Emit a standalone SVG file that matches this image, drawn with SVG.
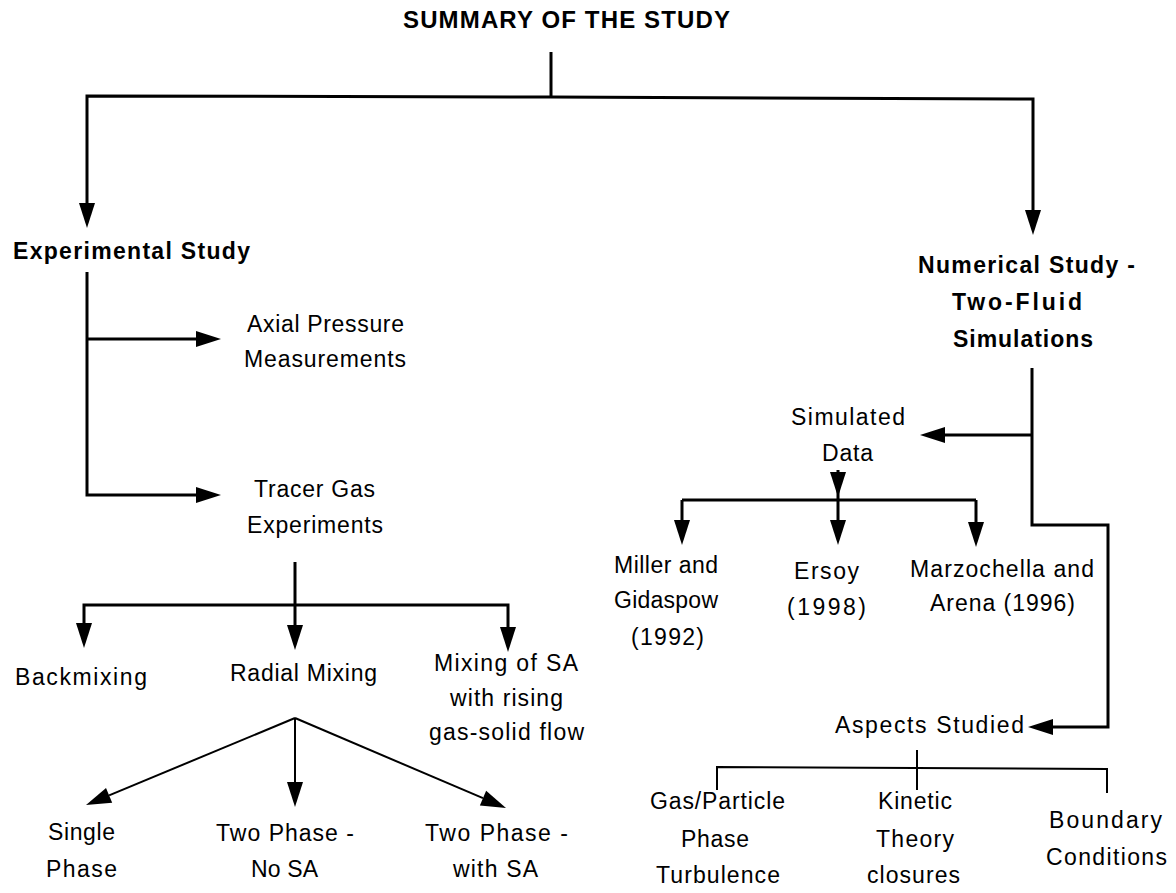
<svg xmlns="http://www.w3.org/2000/svg" width="1176" height="893" viewBox="0 0 1176 893">
<style>
text{font-family:"Liberation Sans",Arial,sans-serif;font-size:23px;fill:#000;text-anchor:middle}
.b{font-weight:bold}
.h{font-size:24px}
.c{fill:none;stroke:#000;stroke-width:3;stroke-linejoin:miter}
.t{fill:none;stroke:#000;stroke-width:2}
.a{marker-end:url(#ah)}
</style>
<defs>
<marker id="ah" viewBox="0 0 25 16" refX="0" refY="8" markerWidth="25" markerHeight="16" markerUnits="userSpaceOnUse" orient="auto" overflow="visible">
<path d="M0,0 L25,8 L0,16 Z" fill="#000"/>
</marker>
</defs>
<rect width="1176" height="893" fill="#fff"/>
<g id="connectors">
<path class="c" d="M551,52 L551,97"/>
<path class="c a" d="M551,97 L87,96 L87,203"/>
<path class="c a" d="M551,97 L1033,99 L1033,210"/>
<path class="c a" d="M87,272 L87,495 L196,495"/>
<path class="c a" d="M87,339 L196,339"/>
<path class="c a" d="M295,562 L295,625"/>
<path class="c a" d="M295,605 L84,605 L84,623"/>
<path class="c a" d="M295,605 L508,605 L508,627"/>
<path class="t a" d="M295,718 L109.1,795.4"/>
<path class="t a" d="M295,718 L295,782"/>
<path class="t a" d="M295,718 L483,798.2"/>
<path class="c a" d="M1032,368 L1032,525 L1108,525 L1108,727 L1053,727"/>
<path class="c a" d="M1032,435 L945,435"/>
<path class="c a" d="M838,470 L838,472"/>
<path class="c" d="M682,500 L976,500"/>
<path class="c a" d="M682,500 L682,520"/>
<path class="c a" d="M838,472 L838,520"/>
<path class="c a" d="M976,500 L976,522"/>
<path class="t" d="M917,750 L917,790"/>
<path class="t" d="M717,790 L717,767 L1107,769 L1107,793"/>
</g>
<g id="title"><text class="b h" x="566.5" y="28" textLength="327" lengthAdjust="spacing">SUMMARY OF THE STUDY</text></g>
<g id="experimental"><text class="b" x="131.5" y="259" textLength="237" lengthAdjust="spacing">Experimental Study</text></g>
<g id="numerical">
<text class="b" x="1026.5" y="273" textLength="217" lengthAdjust="spacing">Numerical Study -</text>
<text class="b" x="1017" y="310" textLength="130" lengthAdjust="spacing">Two-Fluid</text>
<text class="b" x="1023" y="347" textLength="140" lengthAdjust="spacing">Simulations</text>
</g>
<g id="axial">
<text x="325.5" y="332" textLength="157" lengthAdjust="spacing">Axial Pressure</text>
<text x="325" y="367" textLength="162" lengthAdjust="spacing">Measurements</text>
</g>
<g id="tracer">
<text x="314.5" y="497" textLength="121" lengthAdjust="spacing">Tracer Gas</text>
<text x="315" y="533" textLength="136" lengthAdjust="spacing">Experiments</text>
</g>
<g id="backmixing"><text x="81" y="685" textLength="132" lengthAdjust="spacing">Backmixing</text></g>
<g id="radial"><text x="303.5" y="681" textLength="147" lengthAdjust="spacing">Radial Mixing</text></g>
<g id="mixingSA">
<text x="506" y="671" textLength="144" lengthAdjust="spacing">Mixing of SA</text>
<text x="506.5" y="706" textLength="113" lengthAdjust="spacing">with rising</text>
<text x="506.5" y="740" textLength="155" lengthAdjust="spacing">gas-solid flow</text>
</g>
<g id="single">
<text x="81.5" y="840" textLength="67" lengthAdjust="spacing">Single</text>
<text x="81.5" y="877" textLength="71" lengthAdjust="spacing">Phase</text>
</g>
<g id="twoNoSA">
<text x="285" y="841" textLength="138" lengthAdjust="spacing">Two Phase -</text>
<text x="284.5" y="877" textLength="67" lengthAdjust="spacing">No SA</text>
</g>
<g id="twoWithSA">
<text x="496.5" y="841" textLength="143" lengthAdjust="spacing">Two Phase -</text>
<text x="495.5" y="877" textLength="85" lengthAdjust="spacing">with SA</text>
</g>
<g id="simulated">
<text x="848" y="425" textLength="114" lengthAdjust="spacing">Simulated</text>
<text x="847.5" y="461" textLength="51" lengthAdjust="spacing">Data</text>
</g>
<g id="miller">
<text x="666" y="573" textLength="104" lengthAdjust="spacing">Miller and</text>
<text x="666" y="608" textLength="104" lengthAdjust="spacing">Gidaspow</text>
<text x="667.5" y="645" textLength="73" lengthAdjust="spacing">(1992)</text>
</g>
<g id="ersoy">
<text x="826.5" y="579" textLength="65" lengthAdjust="spacing">Ersoy</text>
<text x="826.5" y="615" textLength="79" lengthAdjust="spacing">(1998)</text>
</g>
<g id="marzochella">
<text x="1002" y="577" textLength="184" lengthAdjust="spacing">Marzochella and</text>
<text x="1002.5" y="611" textLength="145" lengthAdjust="spacing">Arena (1996)</text>
</g>
<g id="aspects"><text x="929.5" y="733" textLength="189" lengthAdjust="spacing">Aspects Studied</text></g>
<g id="gasParticle">
<text x="717.5" y="809" textLength="135" lengthAdjust="spacing">Gas/Particle</text>
<text x="715" y="847" textLength="68" lengthAdjust="spacing">Phase</text>
<text x="718" y="883" textLength="124" lengthAdjust="spacing">Turbulence</text>
</g>
<g id="kinetic">
<text x="915" y="809" textLength="74" lengthAdjust="spacing">Kinetic</text>
<text x="915" y="847" textLength="78" lengthAdjust="spacing">Theory</text>
<text x="913.5" y="883" textLength="93" lengthAdjust="spacing">closures</text>
</g>
<g id="boundary">
<text x="1105.5" y="828" textLength="113" lengthAdjust="spacing">Boundary</text>
<text x="1106.5" y="865" textLength="121" lengthAdjust="spacing">Conditions</text>
</g>
</svg>
